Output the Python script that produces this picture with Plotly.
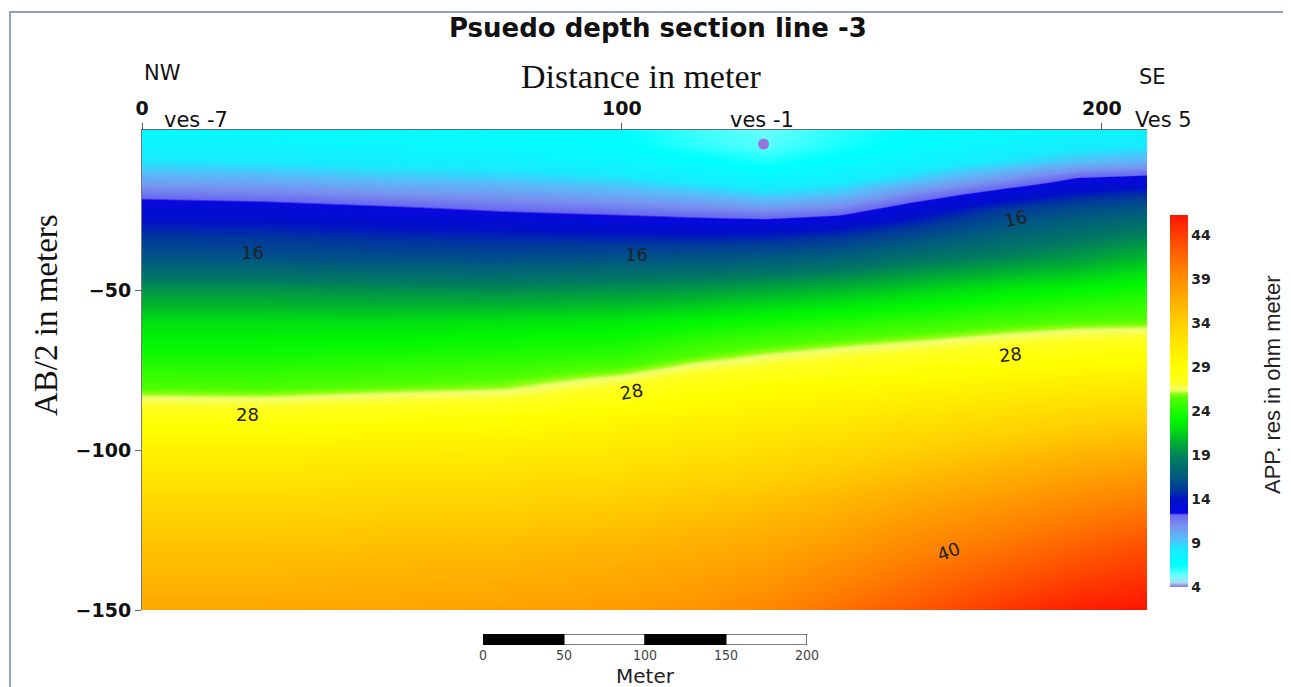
import plotly.graph_objects as go

# ---------------- data ----------------
distance_m = [0, 25, 50, 75, 100, 115, 130, 145, 160, 180, 195, 209]
depth_m = [0, -5, -10, -15, -20, -25, -30, -40, -50, -60, -70, -80, -90, -100, -115, -130, -150]

# apparent resistivity (ohm m), one list per distance column, top -> bottom
col_0   = [7.0, 7.5, 8.5, 10.0, 11.8, 13.5, 14.3, 16.3, 19.5, 22.0, 23.5, 25.3, 28.3, 30.5, 33.0, 35.0, 37.0]
col_25  = [7.0, 7.5, 8.3, 9.8, 11.5, 13.3, 14.3, 16.2, 19.5, 22.0, 23.5, 25.2, 28.2, 30.5, 33.0, 35.0, 37.0]
col_50  = [7.0, 7.3, 8.0, 9.3, 11.0, 12.8, 14.0, 16.0, 19.3, 22.0, 23.7, 25.6, 28.5, 30.8, 33.3, 35.3, 37.2]
col_75  = [6.8, 7.0, 7.8, 9.0, 10.6, 12.2, 13.8, 15.9, 19.2, 22.2, 24.0, 25.9, 28.8, 31.0, 33.5, 35.5, 37.5]
col_100 = [6.5, 6.7, 7.3, 8.5, 10.0, 11.8, 13.5, 16.2, 19.5, 22.5, 24.3, 27.2, 29.8, 31.5, 34.0, 36.0, 38.0]
col_115 = [5.8, 6.0, 6.8, 7.8, 9.5, 11.5, 13.3, 16.3, 19.8, 23.0, 25.4, 28.3, 30.3, 32.0, 34.5, 36.5, 38.5]
col_130 = [5.3, 5.5, 6.2, 7.2, 8.8, 11.0, 13.4, 16.5, 20.3, 23.5, 26.2, 28.8, 30.8, 32.5, 35.0, 37.0, 39.5]
col_145 = [6.0, 6.2, 6.8, 7.8, 9.3, 11.6, 13.8, 17.0, 20.8, 24.0, 26.8, 29.3, 31.3, 33.2, 35.8, 38.0, 41.0]
col_160 = [6.5, 6.8, 7.5, 8.8, 11.2, 13.3, 14.8, 18.0, 21.5, 24.5, 27.3, 29.8, 32.0, 34.0, 36.8, 39.3, 42.5]
col_180 = [7.0, 7.5, 8.5, 10.8, 13.2, 15.2, 16.4, 19.0, 22.5, 25.2, 28.0, 30.5, 32.8, 35.0, 38.0, 40.8, 44.5]
col_195 = [7.3, 8.0, 9.5, 12.4, 14.3, 16.0, 17.3, 19.8, 23.0, 25.6, 28.5, 31.0, 33.5, 35.8, 39.0, 42.0, 45.8]
col_209 = [7.5, 8.3, 10.0, 12.8, 14.8, 16.5, 18.0, 20.8, 23.6, 25.7, 28.7, 31.3, 33.8, 36.3, 39.8, 43.0, 46.3]

columns = [col_0, col_25, col_50, col_75, col_100, col_115, col_130,
           col_145, col_160, col_180, col_195, col_209]

cbar_ticks = [4, 9, 14, 19, 24, 29, 34, 39, 44]
zmin, zmax = 4.0, 46.3

# contour labels
label_text = ["16", "16", "16", "28", "28", "28", "40"]
label_x = [23, 103, 182, 22, 102, 181, 168]
label_y = [-38.4, -38.8, -27.5, -88.8, -81.6, -70.3, -131.6]
label_angle = [0, 0, -12, 0, -10, -6, -20]

# VES station markers / names
ves_names = ["ves -7", "ves -1", "Ves 5"]
ves_label_px = [196, 762, 1163]
low_point_x = [129.5]
low_point_y = [-4.4]

# scale bar segments
scale_base = [0, 50, 100, 150]
scale_len = [50, 50, 50, 50]
scale_ticks = [0, 50, 100, 150, 200]

# ---------------- figure ----------------
OFF = 8                      # page body margin
W, H = 1291 - OFF, 687 - OFF
z = [[columns[j][i] for j in range(len(distance_m))] for i in range(len(depth_m))]

stops = [
    (4.0, "#8a70d8"), (4.5, "#a8dcf6"), (5.2, "#70ffff"), (6.5, "#00ffff"),
    (8.3, "#18eaff"), (9.5, "#58bcf8"), (11.0, "#7890f0"), (12.2, "#6a68ee"),
    (12.4, "#0808e0"), (14.0, "#0010c8"), (15.0, "#00389c"), (16.5, "#005a80"),
    (18.5, "#007a60"), (20.5, "#00b030"), (22.0, "#00e010"), (23.0, "#00f800"),
    (25.5, "#50ff00"), (26.0, "#90ff10"), (26.3, "#f0ff70"), (27.2, "#ffff20"),
    (29.0, "#ffff00"), (31.5, "#ffe800"), (34.0, "#ffd000"), (37.0, "#ffa800"),
    (40.0, "#ff8000"), (43.0, "#ff5000"), (46.3, "#ff1500"),
]
colorscale = [[(v - zmin) / (zmax - zmin), c] for v, c in stops]

def px_x(p):
    return (p - OFF) / W

def px_y(p):
    return 1 - (p - OFF) / H

plot_l, plot_r, plot_t, plot_b = 142, 1147, 130, 610
SANS = "DejaVu Sans"
SERIF = "Liberation Serif"

fig = go.Figure()
fig.add_trace(go.Heatmap(
    x=distance_m, y=depth_m, z=z, zmin=zmin, zmax=zmax,
    colorscale=colorscale, zsmooth="best", hoverinfo="skip",
    colorbar=dict(
        x=px_x(1170), xanchor="left", y=px_y(401), yanchor="middle",
        len=372 / H, lenmode="fraction", thickness=18, xpad=0, ypad=0,
        outlinewidth=0, tickvals=cbar_ticks, ticks="",
        tickfont=dict(family=SANS, size=14, color="#222", weight="bold"),
    ),
))
fig.add_trace(go.Scatter(
    x=low_point_x, y=low_point_y, mode="markers", hoverinfo="skip",
    marker=dict(size=11, color="#9b72e0", line=dict(width=0)), showlegend=False,
))
fig.add_trace(go.Bar(
    x=scale_len, base=scale_base, y=[0, 0, 0, 0], orientation="h", width=1,
    marker=dict(color=["black", "white", "black", "white"], line=dict(color="black", width=1)),
    xaxis="x2", yaxis="y2", hoverinfo="skip", showlegend=False,
))

label_ann = [
    dict(x=x, y=y, text=t, textangle=a, showarrow=False, xref="x", yref="y",
         font=dict(family=SANS, size=18, color="#222"))
    for t, x, y, a in zip(label_text, label_x, label_y, label_angle)
]
paper_ann = [
    dict(x=px_x(658), y=px_y(28), text="<b>Psuedo depth section line -3</b>",
         font=dict(family=SANS, size=26, color="#111")),
    dict(x=px_x(641), y=px_y(77), text="Distance in meter",
         font=dict(family=SERIF, size=34, color="#111")),
    dict(x=px_x(162), y=px_y(73), text="NW", font=dict(family=SANS, size=21, color="#111")),
    dict(x=px_x(1152), y=px_y(77), text="SE", font=dict(family=SANS, size=21, color="#111")),
    dict(x=px_x(46), y=px_y(315), text="AB/2 in meters", textangle=-90,
         font=dict(family=SERIF, size=33, color="#111")),
    dict(x=px_x(1272), y=px_y(385), text="APP. res in ohm meter", textangle=-90,
         font=dict(family="Liberation Sans", size=22, color="#222")),
    dict(x=px_x(645), y=px_y(676), text="Meter", font=dict(family=SANS, size=20, color="#222")),
]
for name, p in zip(ves_names, ves_label_px):
    paper_ann.append(dict(x=px_x(p), y=px_y(120), text=name,
                          font=dict(family=SANS, size=21, color="#111")))
for a in paper_ann:
    a.update(xref="paper", yref="paper", showarrow=False, xanchor="center", yanchor="middle")

tickf = dict(family=SANS, size=19, color="#111", weight="bold")
fig.update_layout(
    width=W, height=H, margin=dict(l=0, r=0, t=0, b=0, autoexpand=False),
    paper_bgcolor="white", plot_bgcolor="white", showlegend=False,
    annotations=label_ann + paper_ann,
    xaxis=dict(domain=[px_x(plot_l), px_x(plot_r)], range=[0, 209.4], side="top",
               tickvals=[0, 100, 200], ticks="outside", ticklen=6, tickcolor="#555",
               showline=True, linecolor="#666", linewidth=1, showgrid=False, zeroline=False,
               tickfont=tickf),
    yaxis=dict(domain=[px_y(plot_b), px_y(plot_t)], range=[-150, 0],
               tickvals=[-50, -100, -150], ticks="outside", ticklen=6, tickcolor="#666",
               showline=True, linecolor="#777", linewidth=1, showgrid=False, zeroline=False,
               tickfont=tickf),
    xaxis2=dict(domain=[px_x(483), px_x(807)], range=[0, 200], anchor="y2",
                tickvals=scale_ticks, ticks="", showline=False, showgrid=False, zeroline=False,
                tickfont=dict(family="Liberation Sans Narrow, DejaVu Sans Condensed", size=14, color="#444")),
    yaxis2=dict(domain=[px_y(645), px_y(634)], range=[-0.5, 0.5], anchor="x2",
                visible=False, showgrid=False, zeroline=False),
    shapes=[dict(type="rect", xref="paper", yref="paper",
                 x0=px_x(10), x1=px_x(1284), y0=-0.05, y1=px_y(12),
                 line=dict(color="#8ea2bd", width=2), layer="below")],
)

fig.write_html("out.html")
